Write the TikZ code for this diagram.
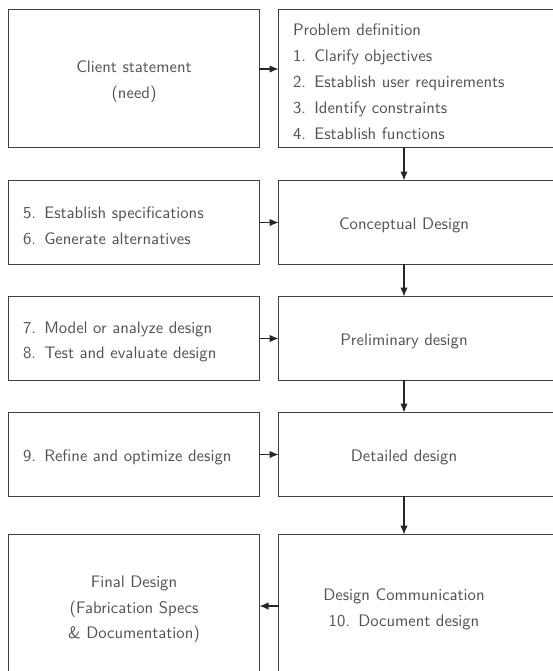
\documentclass[tikz,border=0pt]{standalone}
\usetikzlibrary{arrows.meta}
\tikzstyle{boxline}=[draw=black!75, line width=0.9pt]
\tikzstyle{stage}=[rectangle, text=black!68, font=\sffamily\fontsize{10}{15.5}\selectfont, minimum width=150pt, text width=133.2pt, inner xsep=8.4pt, inner ysep=2pt, execute at begin node={\rule{0pt}{11pt}}]
\tikzstyle{edge}=[draw, line width=0.8pt, black!85, -{Latex[length=5.5pt,width=4.5pt]}]

\begin{document}
\begin{tikzpicture}[x=0.6pt, y=-0.6pt]

    \useasboundingbox (0,0) rectangle (553,671);
    \clip (0,0) rectangle (553,671);

    % left column
    \foreach \y/\h/\name/\txt in {78.5/82.2/client/{Client statement\\(need)}, 606/85.2/final/{Final Design\\(Fabrication Specs\\\& Documentation)}}
        \node[stage, align=center, minimum height=\h pt] (\name) at (134,\y) {\txt};

    \foreach \y/\name/\txt in {222.5/spec/{5. Establish specifications\\6. Generate alternatives}, 338.5/model/{7. Model or analyze design\\8. Test and evaluate design}, 454.5/refine/{9. Refine and optimize design}}
        \node[stage, align=left, minimum height=49.8pt] (\name) at (134,\y) {\txt};

    % right column
    \node[stage, align=left, minimum height=82.2pt] (prob) at (404,78.5) {Problem definition\\1. Clarify objectives\\2. Establish user requirements\\3. Identify constraints\\4. Establish functions};

    \foreach \y/\h/\name/\txt in {222.5/49.8/concept/{Conceptual Design}, 338.5/49.8/prelim/{Preliminary design}, 454.5/49.8/detail/{Detailed design}, 606/85.2/comm/{Design Communication\\10. Document design}}
        \node[stage, align=center, minimum height=\h pt] (\name) at (404,\y) {\txt};

    % frames (right ones run off the page)
    \foreach \name in {client, spec, model, refine, final}
        \draw[boxline] (\name.north west) rectangle (\name.south east);
    \foreach \name in {prob, concept, prelim, detail, comm}
        \draw[boxline] ([xshift=40pt]\name.north east) -- (\name.north west) -- (\name.south west) -- ([xshift=40pt]\name.south east);

    \path[edge] ([yshift=5.7pt]client.east) -- ([yshift=5.7pt]prob.west);

    \foreach \source/\dest in {spec/concept, model/prelim, refine/detail, comm/final, prob/concept, concept/prelim, prelim/detail, detail/comm}
        \path[edge] (\source) -- (\dest);

\end{tikzpicture}
\end{document}
